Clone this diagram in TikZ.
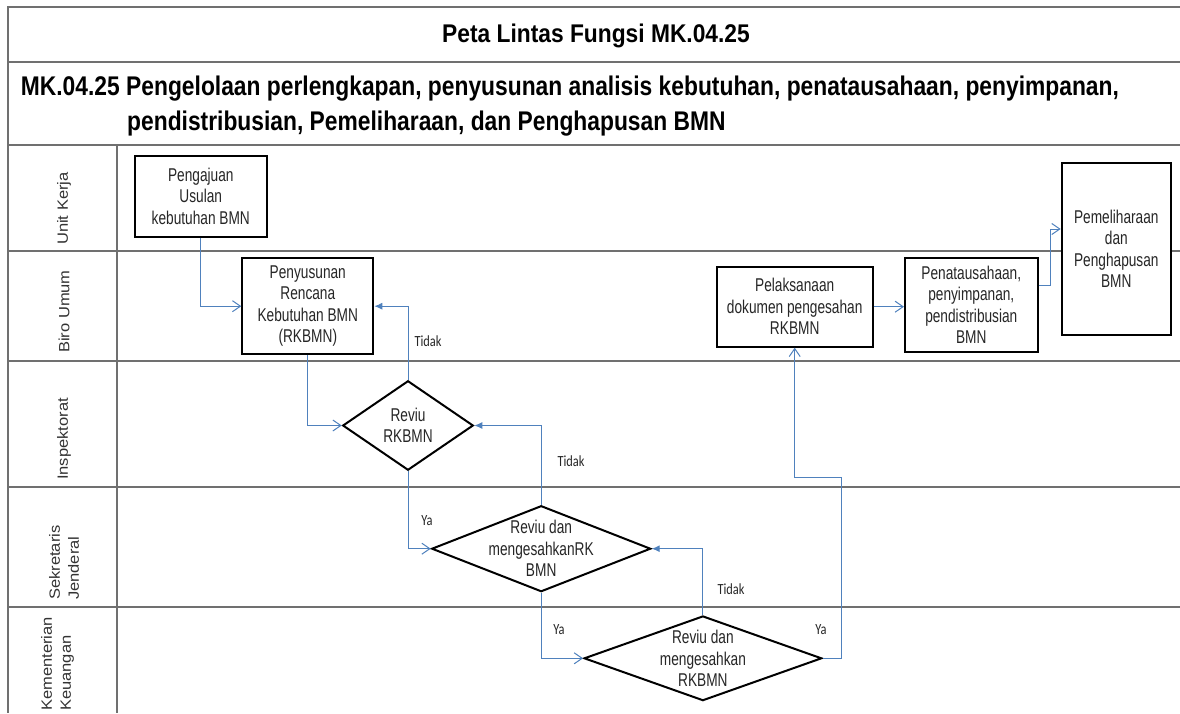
\documentclass[tikz,border=0pt]{standalone}
\usepackage{fontspec}
\setmainfont[FakeStretch=0.74]{Liberation Sans}
\newfontfamily\titlefont[FakeStretch=0.89]{Liberation Sans}
\newfontfamily\headfont[FakeStretch=0.845]{Liberation Sans}
\newfontfamily\lanefont{Liberation Sans}
\newfontfamily\tagfont[FakeStretch=0.8]{Carlito}
\usetikzlibrary{shapes.geometric,arrows.meta}
\definecolor{flowblue}{RGB}{79,129,189}
\definecolor{lanegray}{RGB}{112,112,112}
\begin{document}
\begin{tikzpicture}[x=1pt,y=-1pt,
  lane/.style={draw=lanegray, line width=2pt},
  box/.style={draw=black, fill=white, line width=2pt, rectangle, inner sep=0pt, align=center,
    font=\fontsize{18.5}{21.5}\selectfont, text=black!85},
  dia/.style={draw=black, fill=white, line width=2pt, diamond, inner sep=0pt},
  diatext/.style={align=center, inner sep=0pt, font=\fontsize{18.5}{21.5}\selectfont, text=black!85},
  flow/.style={draw=flowblue, line width=1pt, -{Straight Barb[length=8pt,width=11pt]}},
  back/.style={draw=flowblue, line width=1pt, -{Latex[length=8pt,width=7pt]}},
  tag/.style={font=\tagfont\fontsize{15.5}{16}\selectfont, text=black!85, inner sep=0pt},
  lanelabel/.style={rotate=90, yscale=0.9, anchor=west, align=left, inner sep=0pt,
    font=\lanefont\fontsize{16.5}{19}\selectfont, text=black!80},
  head/.style={font=\headfont\fontsize{27}{32}\selectfont\bfseries, inner sep=0pt, anchor=base west}
]
\useasboundingbox (0,0) rectangle (1180,713);
\fill[white] (0,0) rectangle (1180,713);

% frame and lanes
\draw[lane] (8,7) -- (1180,7);
\draw[lane] (8,62) -- (1180,62);
\draw[lane] (8,145) -- (1180,145);
\draw[lane] (8,251) -- (1180,251);
\draw[lane] (8,360.7) -- (1180,360.7);
\draw[lane] (8,487) -- (1180,487);
\draw[lane] (8,607) -- (1180,607);
\draw[lane] (8,6) -- (8,713);
\draw[lane] (117.3,145) -- (117.3,713);

% headings
\node[font=\titlefont\fontsize{25.6}{30}\selectfont\bfseries, anchor=base, inner sep=0pt] (title) at (596,42.7) {Peta Lintas Fungsi MK.04.25};
\node[head] (s0) at (20.7,95.3) {MK.04.25};
\node[head] (s1) at (126,95.3) {Pengelolaan perlengkapan, penyusunan analisis kebutuhan, penatausahaan, penyimpanan,};
\node[head] (s2) at (127,130.3) {pendistribusian, Pemeliharaan, dan Penghapusan BMN};

% lane labels
\node[lanelabel] (l1) at (64,245) {Unit Kerja};
\node[lanelabel] (l2) at (64,353) {Biro Umum};
\node[lanelabel] (l3) at (64,480) {Inspektorat};
\node[lanelabel, font=\lanefont\fontsize{16.5}{21}\selectfont] (l4) at (64,600) {Sekretaris\\Jenderal};
\node[lanelabel, font=\lanefont\fontsize{16.5}{21}\selectfont] (l5) at (57.5,711) {Kementerian\\Keuangan};

% boxes
\node[box, minimum width=131.7pt, minimum height=80.7pt] (pj) at (200.8,196.3) {Pengajuan\\Usulan\\kebutuhan BMN};
\node[box, minimum width=131pt, minimum height=95.7pt] (ps) at (307.8,306.2) {Penyusunan\\Rencana\\Kebutuhan BMN\\(RKBMN)};
\node[box, minimum width=156pt, minimum height=80pt] (pl) at (794.7,306.7) {Pelaksanaan\\dokumen pengesahan\\RKBMN};
\node[box, minimum width=132.7pt, minimum height=93.4pt] (pt) at (971.3,305) {Penatausahaan,\\penyimpanan,\\pendistribusian\\BMN};
\node[box, minimum width=109.3pt, minimum height=172.3pt] (pm) at (1116.3,249) {Pemeliharaan\\dan\\Penghapusan\\BMN};

% decisions
\node[dia, minimum width=130.6pt, minimum height=89.5pt] (r1) at (408,425.5) {};
\node[diatext] (r1t) at (r1.center) {Reviu\\RKBMN};
\node[dia, minimum width=219pt, minimum height=86pt] (r2) at (541.2,548.7) {};
\node[diatext] (r2t) at (r2.center) {Reviu dan\\mengesahkanRK\\BMN};
\node[dia, minimum width=237.7pt, minimum height=84.7pt] (r3) at (702.9,658.3) {};
\node[diatext] (r3t) at (r3.center) {Reviu dan\\mengesahkan\\RKBMN};

% connectors
\draw[flow] (pj.south) |- (ps.west);
\draw[flow] (ps.south) |- (r1.west);
\draw[back] (r1.north) |- (ps.east);
\draw[flow] (r1.south) |- (r2.west);
\draw[back] (r2.north) |- (r1.east);
\draw[flow] (r2.south) |- (r3.west);
\draw[back] (r3.north) |- (r2.east);
\coordinate (k1) at (841.7,477.3);
\draw[flow] (r3.east) -| (k1) -| (pl.south);
\draw[flow] (pl.east) -- (pl.east -| pt.west);
\draw[flow] ([yshift=19.5pt]pt.east) -- ++(12,0) |- ([yshift=20pt]pm.west);

% connector labels
\node[tag] (t1) at (428,341) {Tidak};
\node[tag] (t2) at (571,461) {Tidak};
\node[tag] (t3) at (731,589) {Tidak};
\node[tag] (y1) at (427,521) {Ya};
\node[tag] (y2) at (559,630) {Ya};
\node[tag] (y3) at (821,630) {Ya};
\end{tikzpicture}
\end{document}
